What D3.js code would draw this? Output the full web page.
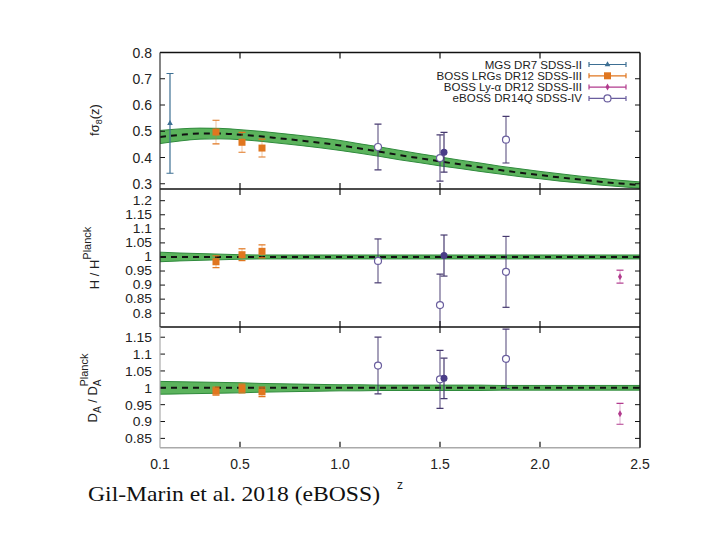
<!DOCTYPE html>
<html><head><meta charset="utf-8">
<script src="https://cdn.jsdelivr.net/npm/d3@7"></script>
<style>
body{margin:0;background:#fff;}
text{font-family:"Liberation Sans",Arial,sans-serif;}
</style></head>
<body><svg id="c" width="720" height="540"></svg>
<script>
// ---------------- data ----------------
const zModel   = [0.1,0.2,0.3,0.4,0.5,0.6,0.7,0.8,0.9,1.0,1.1,1.2,1.3,1.4,1.5,1.6,1.7,1.8,1.9,2.0,2.1,2.2,2.3,2.4,2.5];
const fs8Model = [0.478,0.486,0.491,0.491,0.487,0.481,0.473,0.465,0.456,0.446,0.434,0.422,0.409,0.397,0.385,0.374,0.363,0.352,0.342,0.333,0.324,0.316,0.308,0.301,0.295];
const fs8Band  = [0.025,0.023,0.021,0.020,0.019,0.019,0.019,0.019,0.019,0.019,0.018,0.018,0.018,0.017,0.017,0.016,0.016,0.015,0.015,0.014,0.014,0.013,0.013,0.012,0.012];
const hModel   = [1,1,1,1,1,1,1,1,1,1,1,1,1,1,1,1,1,1,1,1,1,1,1,1,1];
const hBand    = [0.017,0.014,0.012,0.010,0.008,0.007,0.007,0.007,0.007,0.007,0.007,0.007,0.007,0.007,0.007,0.007,0.007,0.007,0.007,0.007,0.007,0.007,0.007,0.007,0.007];
const daModel  = [1,1,1,1,1,1,1,1,1,1,1,1,1,1,1,1,1,1,1,1,1,1,1,1,1];
const daBand   = [0.019,0.018,0.017,0.016,0.015,0.013,0.012,0.011,0.010,0.009,0.009,0.008,0.008,0.008,0.008,0.008,0.008,0.007,0.007,0.007,0.007,0.007,0.007,0.007,0.007];

const seriesNames = ["MGS DR7 SDSS-II","BOSS LRGs DR12 SDSS-III","BOSS Ly-\u03b1 DR12 SDSS-III","eBOSS DR14Q SDSS-IV"];

const mgsZ = [0.15];
const mgsFs8 = [0.53];   const mgsFs8Err = [0.19];

const bossZ = [0.38,0.51,0.61];
const bossFs8 = [0.497,0.458,0.436]; const bossFs8Err = [0.045,0.038,0.034];
const bossH   = [0.983,1.008,1.020]; const bossHErr   = [0.021,0.021,0.023];
const bossDA  = [0.990,0.998,0.988]; const bossDAErr  = [0.012,0.013,0.014];

const lyaZ = [2.40];
const lyaH  = [0.930]; const lyaHErr  = [0.023];
const lyaDA = [0.923]; const lyaDAErr = [0.031];

const ebossZ = [1.19,1.50,1.83];
const ebossFs8 = [0.440,0.398,0.468]; const ebossFs8Err = [0.087,0.088,0.089];
const ebossH   = [0.986,0.829,0.947]; const ebossHErr   = [0.078,0.110,0.126];
const ebossDA  = [1.066,1.025,1.086]; const ebossDAErr  = [0.084,0.086,0.088];

const ebossOneZ = [1.52];
const ebossOneFs8 = [0.420]; const ebossOneFs8Err = [0.076];
const ebossOneH   = [1.005]; const ebossOneHErr   = [0.073];
const ebossOneDA  = [1.028]; const ebossOneDAErr  = [0.060];

const xTicks = [0.1,0.5,1.0,1.5,2.0,2.5];
const xTickLabels = ["0.1","0.5","1.0","1.5","2.0","2.5"];
const fs8Ticks = [0.3,0.4,0.5,0.6,0.7,0.8];
const fs8TickLabels = ["0.3","0.4","0.5","0.6","0.7","0.8"];
const hTicks = [0.8,0.85,0.9,0.95,1,1.05,1.1,1.15,1.2];
const hTickLabels = ["0.8","0.85","0.9","0.95","1","1.05","1.1","1.15","1.2"];
const daTicks = [0.85,0.9,0.95,1,1.05,1.1,1.15];
const daTickLabels = ["0.85","0.9","0.95","1","1.05","1.1","1.15"];

// ---------------- drawing ----------------
const svg = d3.select("#c");
const X0 = 160, X1 = 640;
const x = d3.scaleLinear().domain([0.1,2.5]).range([X0,X1]);

const cMGS = "#3d6f93", cBOSS = "#e0761f", cLya = "#b23b8e", cE = "#6a5e9e", cEbar = "#46396f";

const panels = [
  {id:"fs8", top:52.5, bot:189, dom:[0.28,0.8], ticks:fs8Ticks, labels:fs8TickLabels, model:fs8Model, band:fs8Band, fs:14, sx:1},
  {id:"h",   top:189, bot:327, dom:[0.751,1.2416], ticks:hTicks, labels:hTickLabels, model:hModel, band:hBand, fs:12, sx:1.15},
  {id:"da",  top:327, bot:447.7, dom:[0.8224,1.1803], ticks:daTicks, labels:daTickLabels, model:daModel, band:daBand, fs:13.5, sx:1.03}
];

const defs = svg.append("defs");
panels.forEach(p => {
  p.y = d3.scaleLinear().domain(p.dom).range([p.bot,p.top]);
  defs.append("clipPath").attr("id","clip-"+p.id).append("rect")
    .attr("x",X0).attr("y",p.top).attr("width",X1-X0).attr("height",p.bot-p.top);
});

function errorSeries(g, y, zs, vs, es, color, barColor, barOpacity, marker){
  zs.forEach((z,i)=>{
    const cx = x(z), cy = y(vs[i]), yt = y(vs[i]+es[i]), yb = y(vs[i]-es[i]);
    g.append("line").attr("x1",cx).attr("x2",cx).attr("y1",yt).attr("y2",yb)
      .attr("stroke",barColor).attr("stroke-width",1.2).attr("stroke-opacity",barOpacity);
    [yt,yb].forEach(yy=>g.append("line").attr("x1",cx-3.5).attr("x2",cx+3.5).attr("y1",yy).attr("y2",yy)
      .attr("stroke",barColor).attr("stroke-width",1.2));
    marker(g,cx,cy);
  });
}
const mTri = (g,cx,cy)=>g.append("path").attr("d",d3.symbol(d3.symbolTriangle,14)()).attr("transform",`translate(${cx},${cy})`).attr("fill",cMGS);
const mSq  = (g,cx,cy)=>g.append("rect").attr("x",cx-3.5).attr("y",cy-3.5).attr("width",7).attr("height",7).attr("fill",cBOSS);
const mDot = (g,cx,cy)=>g.append("path").attr("d",d3.symbol(d3.symbolDiamond,14)()).attr("transform",`translate(${cx},${cy})`).attr("fill",cLya);
const mCirc= (g,cx,cy)=>g.append("circle").attr("cx",cx).attr("cy",cy).attr("r",3.5).attr("fill","white").attr("stroke",cE).attr("stroke-width",1.2);
const mFill= (g,cx,cy)=>g.append("circle").attr("cx",cx).attr("cy",cy).attr("r",3.5).attr("fill","#4a3d88");

panels.forEach(p=>{
  const y = p.y;
  const g = svg.append("g").attr("clip-path",`url(#clip-${p.id})`);
  const area = d3.area().x((d,i)=>x(zModel[i])).y0((d,i)=>y(p.model[i]-p.band[i])).y1((d,i)=>y(p.model[i]+p.band[i])).curve(d3.curveMonotoneX);
  g.append("path").attr("d",area(zModel)).attr("fill","#5bb35c").attr("stroke","#2f8a3c").attr("stroke-width",1);
  const line = d3.line().x((d,i)=>x(zModel[i])).y((d,i)=>y(p.model[i])).curve(d3.curveMonotoneX);
  g.append("path").attr("d",line(zModel)).attr("fill","none").attr("stroke","#111").attr("stroke-width",2).attr("stroke-dasharray","6,5");

  if(p.id==="fs8"){
    errorSeries(g,y,mgsZ,mgsFs8,mgsFs8Err,cMGS,cMGS,1,mTri);
    errorSeries(g,y,bossZ,bossFs8,bossFs8Err,cBOSS,cBOSS,0.35,mSq);
    errorSeries(g,y,ebossZ,ebossFs8,ebossFs8Err,cE,cEbar,0.8,mCirc);
    errorSeries(g,y,ebossOneZ,ebossOneFs8,ebossOneFs8Err,cE,cEbar,1,mFill);
  } else if(p.id==="h"){
    errorSeries(g,y,bossZ,bossH,bossHErr,cBOSS,cBOSS,0.35,mSq);
    errorSeries(g,y,lyaZ,lyaH,lyaHErr,cLya,cLya,0.35,mDot);
    errorSeries(g,y,ebossZ,ebossH,ebossHErr,cE,cEbar,0.8,mCirc);
    errorSeries(g,y,ebossOneZ,ebossOneH,ebossOneHErr,cE,cEbar,1,mFill);
  } else {
    errorSeries(g,y,bossZ,bossDA,bossDAErr,cBOSS,cBOSS,0.35,mSq);
    errorSeries(g,y,lyaZ,lyaDA,lyaDAErr,cLya,cLya,0.35,mDot);
    errorSeries(g,y,ebossZ,ebossDA,ebossDAErr,cE,cEbar,0.8,mCirc);
    errorSeries(g,y,ebossOneZ,ebossOneDA,ebossOneDAErr,cE,cEbar,1,mFill);
  }

  // ticks
  const ax = svg.append("g");
  xTicks.slice(1,-1).forEach(t=>{
    ax.append("line").attr("x1",x(t)).attr("x2",x(t)).attr("y1",p.top).attr("y2",p.top+6).attr("stroke","#111").attr("stroke-width",1.2);
    ax.append("line").attr("x1",x(t)).attr("x2",x(t)).attr("y1",p.bot).attr("y2",p.bot-6).attr("stroke","#111").attr("stroke-width",1.2);
  });
  p.ticks.forEach((t,i)=>{
    ax.append("line").attr("x1",X0).attr("x2",X0+5).attr("y1",y(t)).attr("y2",y(t)).attr("stroke","#111").attr("stroke-width",1);
    ax.append("line").attr("x1",X1).attr("x2",X1-5).attr("y1",y(t)).attr("y2",y(t)).attr("stroke","#111").attr("stroke-width",1);
    ax.append("text").attr("transform",`translate(152,${y(t)}) scale(${p.sx},1)`).attr("dy","0.36em").attr("text-anchor","end")
      .attr("font-size",p.fs).attr("fill","#222").text(p.labels[i]);
  });
});

// frames
const fr = svg.append("g").attr("fill","none");
fr.append("line").attr("x1",X0).attr("x2",X1).attr("y1",52.5).attr("y2",52.5).attr("stroke","#111").attr("stroke-width",1.5);
fr.append("line").attr("x1",X0).attr("x2",X1).attr("y1",189).attr("y2",189).attr("stroke","#111").attr("stroke-width",1.5);
fr.append("line").attr("x1",X0).attr("x2",X1).attr("y1",327).attr("y2",327).attr("stroke","#111").attr("stroke-width",1.5);
fr.append("line").attr("x1",X0).attr("x2",X1).attr("y1",447.7).attr("y2",447.7).attr("stroke","#aaa").attr("stroke-width",1.5);
fr.append("line").attr("x1",X1).attr("x2",X1).attr("y1",52.5).attr("y2",447.7).attr("stroke","#111").attr("stroke-width",1.5);
fr.append("line").attr("x1",X0).attr("x2",X0).attr("y1",52.5).attr("y2",327).attr("stroke","#333").attr("stroke-width",1.2);
fr.append("line").attr("x1",X0).attr("x2",X0).attr("y1",327).attr("y2",447.7).attr("stroke","#aaa").attr("stroke-width",1.2);

// x tick labels
xTicks.forEach((t,i)=>svg.append("text").attr("x",x(t)).attr("y",469).attr("text-anchor","middle")
  .attr("font-size",14).attr("fill","#222").text(xTickLabels[i]));

// legend
const legMarkers = [mTri,mSq,mDot,mCirc];
const legColors = [cMGS,cBOSS,cLya,cE];
seriesNames.forEach((n,i)=>{
  const by = 68.5 + i*11.3;
  svg.append("text").attr("transform",`translate(582,${by}) scale(1.1,1)`).attr("text-anchor","end")
    .attr("font-size",10.5).attr("fill","#222").text(n);
  const ly = by-4;
  svg.append("line").attr("x1",589).attr("x2",626).attr("y1",ly).attr("y2",ly).attr("stroke",legColors[i]).attr("stroke-width",1.2);
  [589,626].forEach(xx=>svg.append("line").attr("x1",xx).attr("x2",xx).attr("y1",ly-2.5).attr("y2",ly+2.5).attr("stroke",legColors[i]).attr("stroke-width",1.2));
  legMarkers[i](svg,607.5,ly);
});

// y axis titles
const t1 = svg.append("text").attr("transform","translate(99,120) rotate(-90)").attr("text-anchor","middle").attr("font-size",13).attr("fill","#222");
t1.append("tspan").text("f");
t1.append("tspan").text("\u03c3");
t1.append("tspan").attr("font-size",9).attr("dy",3).text("8");
t1.append("tspan").attr("dy",-3).text("(z)");

const t2 = svg.append("text").attr("transform","translate(99,258) rotate(-90)").attr("text-anchor","middle").attr("font-size",13).attr("fill","#222");
t2.append("tspan").text("H / H");
t2.append("tspan").attr("font-size",11).attr("dy",-8).text("Planck");

const t3 = svg.append("text").attr("transform","translate(97,388) rotate(-90)").attr("text-anchor","middle").attr("font-size",13).attr("fill","#222");
t3.append("tspan").text("D");
t3.append("tspan").attr("font-size",10).attr("dy",4).text("A");
t3.append("tspan").attr("dy",-4).text(" / D");
t3.append("tspan").attr("font-size",10).attr("dy",4).text("A");
t3.append("tspan").attr("font-size",11).attr("dy",-13).attr("dx",-7).text("Planck");

// x title and caption
svg.append("text").attr("x",400).attr("y",489).attr("text-anchor","middle").attr("font-size",12).attr("fill","#222").text("z");
svg.append("text").attr("x",88).attr("y",501)
  .attr("font-size",22).attr("fill","#111").attr("textLength",292).attr("lengthAdjust","spacingAndGlyphs")
  .style("font-family","'Liberation Serif','Times New Roman',serif").text("Gil-Marin et al. 2018 (eBOSS)");
</script></body></html>
